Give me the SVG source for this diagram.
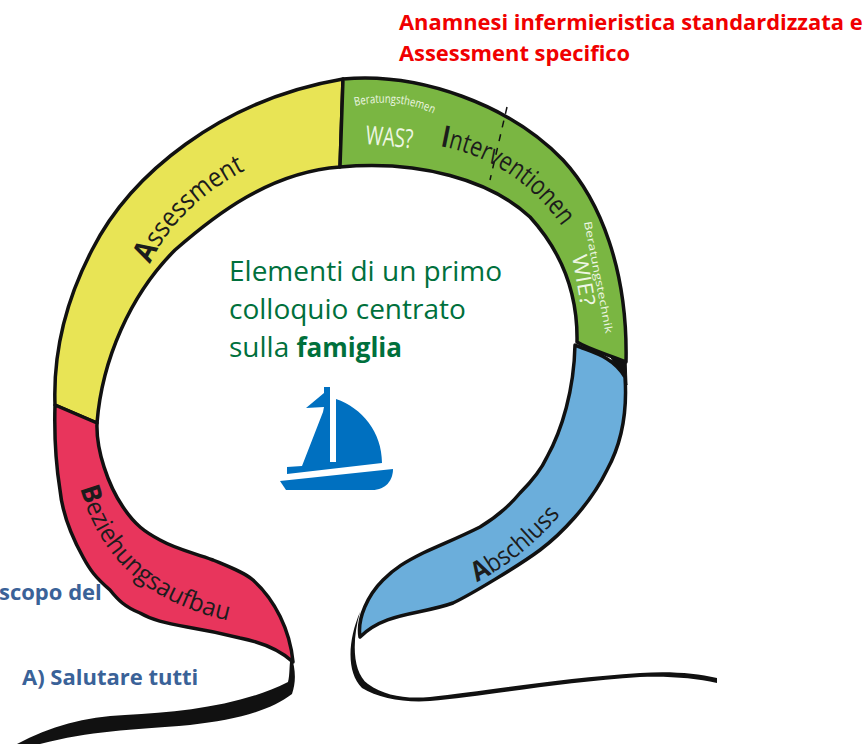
<svg xmlns="http://www.w3.org/2000/svg" width="868" height="744" viewBox="0 0 868 744">
<style>
.seg{stroke:#111;stroke-width:3.5;stroke-linejoin:round}
.rb{font-family:"Open Sans","Liberation Sans",sans-serif;fill:#1c1c1c}
.wh{font-family:"Open Sans","Liberation Sans",sans-serif;fill:#eef6e4}
.gr{font-family:"Open Sans","Liberation Sans",sans-serif;font-size:28px;fill:#00703c}
.red{font-family:"Open Sans","Liberation Sans",sans-serif;font-size:21.9px;font-weight:700;fill:#f00000}
.bl{font-family:"Open Sans","Liberation Sans",sans-serif;font-size:22px;font-weight:700;fill:#3a6298}
</style>
<defs>
<path id="pA" d="M150,264 C170,222 205,190 250,168 L290,150"/>
<path id="pI" d="M440,146 C490,155 535,185 566,232 L590,270"/>
<path id="pB" d="M80,488 C100,560 150,605 235,622 L270,628"/>
<path id="pS" d="M477,582 C510,565 540,540 566,508 L590,478"/>
<path id="pT" d="M355,106 C380,100 410,102 434,114 L460,128"/>
</defs>
<rect width="868" height="744" fill="#fff"/>
<g id="ribbon-ends">
<path d="M291,655 C296,670 296,682 292,694 C270,711 235,720 190,725 C130,730 90,731 40,744 L17,744 C50,726 85,717 125,715 C180,712 240,706 288,682 C290,675 289,665 291,655 Z" fill="#111"/>
<path d="M360,612 C352,640 352,672 368,684 C385,696 405,699 430,697 C480,692 560,678 640,673 C670,671 695,673 717,678 L717,683 C695,678 670,676 640,677 C560,682 480,697 430,701 C405,703 378,698 362,688 C346,672 348,640 360,612 Z" fill="#111"/>
<path d="M626,358 L627,385 L610,356 Z" fill="#111" stroke="#111"/>
</g>
<g id="assessment">
<path class="seg" fill="#e8e455" d="M55,405 C53,350 66,300 92,250 C130,175 220,100 343,79 L340,167 C270,172 215,215 175,250 C130,295 102,360 97,423 Z"/>
<text class="rb" font-size="27"><textPath href="#pA" textLength="136" lengthAdjust="spacingAndGlyphs"><tspan font-weight="700" font-size="30">A</tspan>ssessment</textPath></text>
</g>
<g id="interventionen">
<path class="seg" fill="#7ab642" d="M343,79 C420,72 510,105 563,160 C600,200 628,270 626,362 C610,355 590,350 577,342 C578,290 560,250 530,217 C490,180 420,160 340,167 Z"/>
<path d="M507,107 L490,180" stroke="#111" stroke-width="1.5" stroke-dasharray="7 7" fill="none"/>
<text class="rb" font-size="27"><textPath href="#pI" textLength="150" lengthAdjust="spacingAndGlyphs"><tspan font-weight="700" font-size="30">I</tspan>nterventionen</textPath></text>
<text class="wh" font-size="12"><textPath href="#pT" textLength="80" lengthAdjust="spacingAndGlyphs">Beratungsthemen</textPath></text>
<text class="wh" font-size="26" transform="translate(365,144) rotate(5) scale(.72,1)">WAS?</text>
<text class="wh" font-size="21" transform="translate(572,256) rotate(80) scale(1.12,1)">WIE?</text>
<text class="wh" font-size="10.5" transform="translate(584,222) rotate(79)" textLength="114" lengthAdjust="spacingAndGlyphs">Beratungstechnik</text>
</g>
<g id="abschluss">
<path class="seg" fill="#6baedb" d="M575,345 C590,352 612,355 625,377 C628,420 618,450 607,470 C590,505 560,535 540,550 C520,565 470,595 453,603 C420,615 385,612 360,637 C357,618 368,595 383,580 C395,568 405,562 423,553 C445,543 460,537 480,527 C495,518 510,505 520,493 C535,478 542,468 547,457 C562,430 574,390 575,345 Z"/>
<text class="rb" font-size="25"><textPath href="#pS" textLength="108" lengthAdjust="spacingAndGlyphs"><tspan font-weight="700" font-size="27">A</tspan>bschluss</textPath></text>
</g>
<g id="beziehungsaufbau">
<path class="seg" fill="#e8355c" d="M55,405 L97,423 C96,450 108,485 123,507 C135,525 145,532 160,540 C178,550 195,553 213,560 C232,568 245,573 253,580 C275,600 290,630 293,662 C280,650 260,642 240,638 C220,633 205,630 187,627 C165,623 152,620 140,613 C125,607 118,600 110,590 C95,577 90,570 83,557 C68,530 62,510 60,490 C56,465 54,440 55,405 Z"/>
<text class="rb" font-size="25"><textPath href="#pB" textLength="210" lengthAdjust="spacingAndGlyphs"><tspan font-weight="700" font-size="27">B</tspan>eziehungsaufbau</textPath></text>
</g>
<g id="boat" fill="#0070c0">
<path d="M280,481 L393,469 C393,480 386,490 372,490 L286,490 Z"/>
<path d="M287,467 L302,466 L323,412 L324,407 L306,408 L324,393 L324,387 L330,387 L330,462 L336,462 L336,399 C362,408 382,432 382,463 L287,474 Z"/>
</g>
<g id="labels">
<text class="red" x="399" y="30">Anamnesi infermieristica standardizzata e</text>
<text class="red" x="399" y="61">Assessment specifico</text>
<text class="gr" x="229" y="281">Elementi di un primo</text>
<text class="gr" x="229" y="319">colloquio centrato</text>
<text class="gr" x="229" y="357">sulla <tspan font-weight="700" font-size="26">famiglia</tspan></text>
<text class="bl" x="-1" y="600">scopo del</text>
<text class="bl" x="22" y="685">A) Salutare tutti</text>
</g>
</svg>
